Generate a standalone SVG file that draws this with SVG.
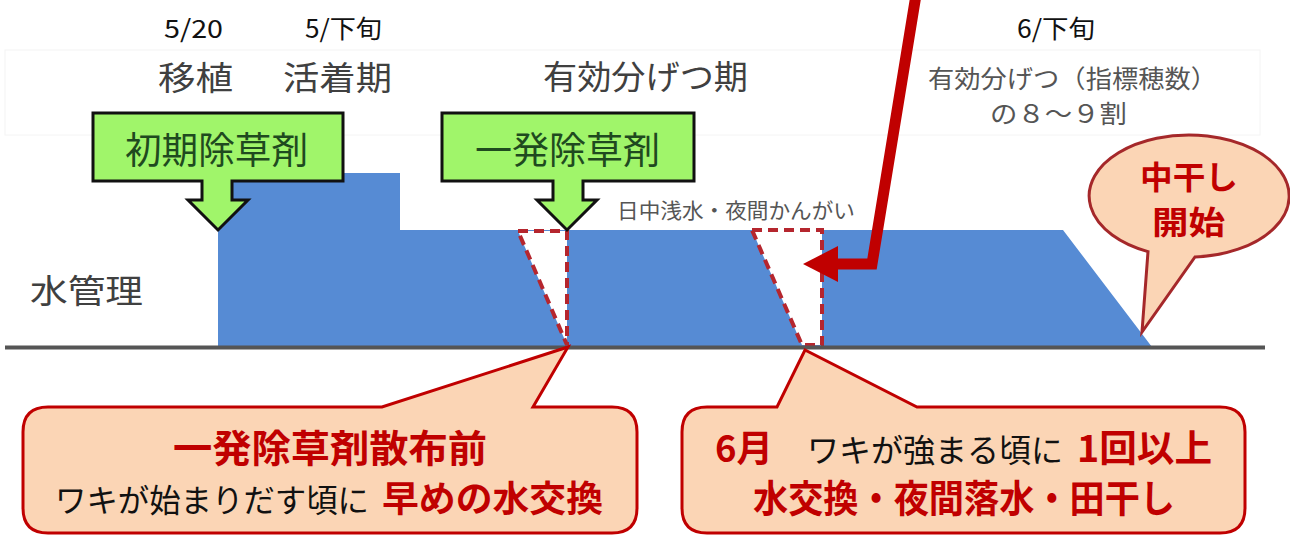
<svg xmlns="http://www.w3.org/2000/svg" width="1290" height="536" viewBox="0 0 1290 536">
<style>
text{font-family:"Noto Sans CJK JP","Noto Sans",sans-serif;}
.hdr{font-size:25px;fill:#111;}
.lbl{font-size:33px;fill:#404040;}
.sub{font-size:25px;fill:#555;}
.herb{fill:#A0F56A;stroke:#111;stroke-width:3;stroke-linejoin:miter;}
.herbt{font-size:37px;fill:#1F4A1F;}
.dash{fill:#fff;stroke:#B5262E;stroke-width:4;stroke-dasharray:10 6;}
.call{fill:#FBD5B5;stroke:#C00000;stroke-width:3;stroke-linejoin:miter;}
.rb{font-weight:700;fill:#C00000;}
.bk{font-weight:400;fill:#111;}
</style>
<rect x="5" y="50" width="1255" height="85" fill="none" stroke="#f4f4f4" stroke-width="1"/>
<g id="water">
<path d="M218,347 V173 H400 V230 H1063 L1152,347 Z" fill="#568BD4"/>
<polygon class="dash" points="518,231 567,231 567,345"/>
<polygon class="dash" points="752,230 822,230 822,345 802,345"/>
<line x1="5" y1="347.5" x2="1265" y2="347.5" stroke="#555" stroke-width="4"/>
</g>
<g id="header">
<text class="hdr" x="164" y="38" textLength="59" lengthAdjust="spacingAndGlyphs">5/20</text>
<text class="hdr" x="305" y="38" textLength="77" lengthAdjust="spacingAndGlyphs">5/下旬</text>
<text class="hdr" x="1017" y="38" textLength="78" lengthAdjust="spacingAndGlyphs">6/下旬</text>
<text class="lbl" x="158" y="90" textLength="75" lengthAdjust="spacingAndGlyphs">移植</text>
<text class="lbl" x="283" y="90" textLength="109" lengthAdjust="spacingAndGlyphs">活着期</text>
<text class="lbl" x="543" y="89" textLength="205" lengthAdjust="spacingAndGlyphs">有効分げつ期</text>
<text class="sub"><tspan x="928" y="88" textLength="289" lengthAdjust="spacingAndGlyphs">有効分げつ（指標穂数）</tspan><tspan x="990" y="123" textLength="137" lengthAdjust="spacingAndGlyphs">の８～９割</tspan></text>
<text x="617" y="218" font-size="21" fill="#555" textLength="238" lengthAdjust="spacingAndGlyphs">日中浅水・夜間かんがい</text>
<text class="lbl" x="30" y="303" textLength="113" lengthAdjust="spacingAndGlyphs">水管理</text>
</g>
<g id="herb1">
<path class="herb" d="M93,113 H343 V181 H232 V200 H248 L218,230 L188,200 H202 V181 H93 Z"/>
<text class="herbt" x="125" y="164" textLength="183" lengthAdjust="spacingAndGlyphs">初期除草剤</text>
</g>
<g id="herb2">
<path class="herb" d="M442,113 H694 V181 H583 V200 H597 L567,230 L537,200 H553 V181 H442 Z"/>
<text class="herbt" x="475" y="164" textLength="185" lengthAdjust="spacingAndGlyphs">一発除草剤</text>
</g>
<g id="connectors">
<polyline points="916,-5 872,264 836,264" fill="none" stroke="#C00000" stroke-width="11" stroke-linejoin="miter"/>
<polygon points="838,246 803,264 838,282" fill="#C00000"/>
</g>
<g id="nakaboshi">
<path d="M1148,251.6 L1142,332 L1195,256.9 A100,61 0 1 0 1148,251.6 Z" fill="#FBD5B5" stroke="#A5282A" stroke-width="3"/>
<text class="rb" font-size="32"><tspan x="1140" y="189" textLength="98" lengthAdjust="spacingAndGlyphs">中干し</tspan><tspan x="1152" y="234" textLength="73" lengthAdjust="spacingAndGlyphs">開始</tspan></text>
</g>
<g id="callout1">
<path class="call" d="M48,407 H382 L568,347 L533,407 H612 Q637,407 637,432 V508 Q637,533 612,533 H48 Q23,533 23,508 V432 Q23,407 48,407 Z"/>
<text class="rb" x="173" y="462" font-size="38" textLength="314" lengthAdjust="spacingAndGlyphs">一発除草剤散布前</text>
<text font-size="36" y="512"><tspan class="bk" x="55" font-size="32" textLength="314" lengthAdjust="spacingAndGlyphs">ワキが始まりだす頃に</tspan><tspan class="rb" x="382" textLength="221" lengthAdjust="spacingAndGlyphs">早めの水交換</tspan></text>
</g>
<g id="callout2">
<path class="call" d="M707,407 H777 L805,350 L917,407 H1220 Q1245,407 1245,432 V508 Q1245,533 1220,533 H707 Q682,533 682,508 V432 Q682,407 707,407 Z"/>
<text y="462" font-size="37"><tspan class="rb" x="715" textLength="58" lengthAdjust="spacingAndGlyphs">6月</tspan><tspan class="bk" x="807" font-size="32" textLength="256" lengthAdjust="spacingAndGlyphs">ワキが強まる頃に</tspan><tspan class="rb" x="1077" textLength="135" lengthAdjust="spacingAndGlyphs">1回以上</tspan></text>
<text class="rb" x="753" y="512" font-size="38" textLength="422" lengthAdjust="spacingAndGlyphs">水交換・夜間落水・田干し</text>
</g>
</svg>
